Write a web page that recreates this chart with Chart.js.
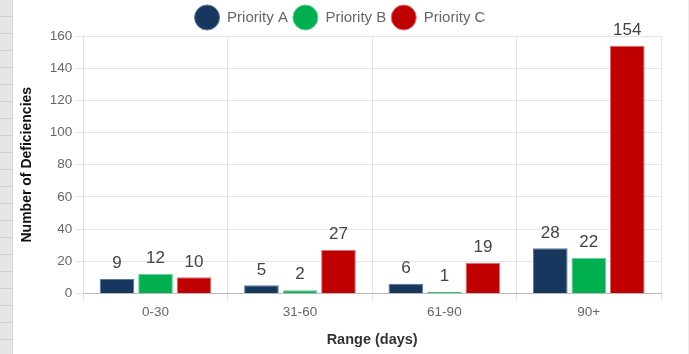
<!DOCTYPE html>
<html>
<head>
<meta charset="utf-8">
<script src="https://cdn.jsdelivr.net/npm/chart.js@4"></script>
<style>
  html, body { margin: 0; padding: 0; width: 689px; height: 354px; overflow: hidden; background: #fff; }
  #sheet {
    position: absolute; left: 0; top: 0; width: 12px; height: 354px;
    background: repeating-linear-gradient(to bottom, #e6e6e6 0px, #e6e6e6 16px, #cfcfcf 16px, #cfcfcf 17px);
    border-right: 1px solid #d4d4d4;
  }
  #wrap { position: absolute; left: 13px; top: 0; width: 675px; height: 354px; border-right: 1px solid #eee; }
</style>
</head>
<body>
<div id="sheet"></div>
<div id="wrap"><canvas id="myChart"></canvas></div>
<script>
const ranges = ['0-30', '31-60', '61-90', '90+'];
const priorityA = [9, 5, 6, 28];
const priorityB = [12, 2, 1, 22];
const priorityC = [10, 27, 19, 154];
const seriesNames = ['Priority A', 'Priority B', 'Priority C'];

const fonte = '"Liberation Sans", Arial, sans-serif';

function carregarGrafico(){
    // valores em cima das barras
    const rotulos = {
        id: 'rotulos',
        afterDatasetsDraw(chart, args, options){
            const { ctx } = chart;
            ctx.save();
            ctx.font = '17px ' + fonte;
            ctx.textAlign = 'center';
            ctx.textBaseline = 'bottom';
            ctx.fillStyle = options.fontColor;
            chart.data.datasets.forEach((ds, i) => {
                chart.getDatasetMeta(i).data.forEach((bar, j) => {
                    ctx.fillText(ds.data[j], bar.x, bar.y - 7);
                });
            });
            ctx.restore();
        }
    };

    const data = {
        labels: ranges,
        datasets: [{
            label: seriesNames[0],
            data: priorityA,
            backgroundColor: '#17375e',
            borderColor: '#5b7aa0',
            borderWidth: 1
        },{
            label: seriesNames[1],
            data: priorityB,
            backgroundColor: '#00b050',
            borderColor: '#66d096',
            borderWidth: 1
        },{
            label: seriesNames[2],
            data: priorityC,
            backgroundColor: '#c00000',
            borderColor: '#e07070',
            borderWidth: 1
        }]
    };

    const config = {
        type: 'bar',
        data: data,
        options: {
            responsive: true,
            maintainAspectRatio: false,
            animation: false,
            layout: { padding: { left: 6, right: 27, top: 0, bottom: 3 } },
            plugins: {
                tooltip: { enabled: false },
                legend: {
                    position: 'top',
                    maxHeight: 36,
                    labels: {
                        boxWidth: 25,
                        boxHeight: 25,
                        useBorderRadius: true,
                        borderRadius: 12.5,
                        padding: 5,
                        color: '#666',
                        font: { size: 15, family: fonte }
                    }
                },
                rotulos: { fontColor: '#444' }
            },
            scales: {
                x: {
                    grid: { offset: true, color: '#e5e5e5', tickLength: 8 },
                    border: { color: '#bbb' },
                    ticks: { color: '#666', font: { size: 13.5, family: fonte } },
                    title: {
                        display: true,
                        text: 'Range (days)',
                        color: '#333',
                        padding: { top: 8, bottom: 2 },
                        font: { size: 14.5, weight: 'bold', family: fonte }
                    }
                },
                y: {
                    min: 0,
                    max: 160,
                    grid: { color: '#e5e5e5', tickLength: 8 },
                    border: { color: '#ddd' },
                    ticks: { stepSize: 20, color: '#666', font: { size: 13.5, family: fonte } },
                    title: {
                        display: true,
                        text: 'Number of Deficiencies',
                        color: '#111',
                        padding: { top: 0, bottom: 11 },
                        font: { size: 14, weight: 'bold', family: fonte }
                    }
                }
            }
        },
        plugins: [rotulos]
    };
    new Chart(document.getElementById('myChart'), config);
}
carregarGrafico();
</script>
</body>
</html>
